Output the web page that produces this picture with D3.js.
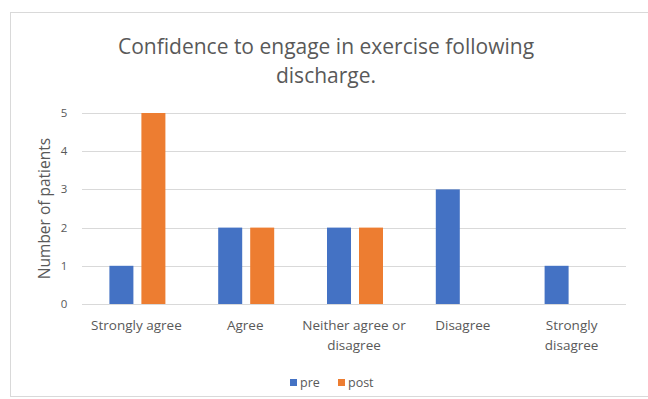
<!DOCTYPE html>
<html>
<head>
<meta charset="utf-8">
<title>Confidence to engage in exercise</title>
<script src="https://cdn.jsdelivr.net/npm/d3@7"></script>
<style>
  body { margin: 0; background: #fff; }
  text { font-family: "Open Sans", sans-serif; fill: #595959; }
</style>
</head>
<body>
<script>
var categories = ["Strongly agree", "Agree", "Neither agree or disagree", "Disagree", "Strongly disagree"]
var catLines = [["Strongly agree"], ["Agree"], ["Neither agree or", "disagree"], ["Disagree"], ["Strongly", "disagree"]]
var seriesNames = ["pre", "post"]
var preValues = [1, 2, 2, 3, 1]
var postValues = [5, 2, 2, 0, 0]
var yTicks = [0, 1, 2, 3, 4, 5]
var colors = ["#4472C4", "#ED7D31"]

var width = 648, height = 399
var svg = d3.select("body").append("svg").attr("width", width).attr("height", height)

// chart frame
svg.append("rect").attr("x", 10.5).attr("y", 12.5).attr("width", 660).attr("height", 384)
  .attr("fill", "#fff").attr("stroke", "#d9d9d9")

var plotLeft = 82, plotRight = 626, plotTop = 113, plotBottom = 304

var x = d3.scaleBand().domain(categories).range([plotLeft, plotRight]).paddingInner(0).paddingOuter(0)
var x1 = d3.scaleBand().domain(seriesNames).range([0, 56]).paddingInner(0.25)
var y = d3.scaleLinear().domain([0, 5]).range([plotBottom, plotTop])

// gridlines
svg.append("g").selectAll("line").data(yTicks).enter().append("line")
  .attr("x1", plotLeft).attr("x2", plotRight)
  .attr("y1", function(d) { return Math.round(y(d)) + 0.5 }).attr("y2", function(d) { return Math.round(y(d)) + 0.5 })
  .attr("stroke", "#d9d9d9").attr("stroke-width", 1)

// y tick labels
svg.append("g").selectAll("text").data(yTicks).enter().append("text")
  .attr("x", 64).attr("y", function(d) { return y(d) + 4 })
  .attr("text-anchor", "middle").attr("font-size", 11.5).text(function(d) { return d })

// y axis title
svg.append("text").attr("transform", "translate(50," + ((plotTop + plotBottom) / 2) + ") rotate(-90)")
  .attr("text-anchor", "middle").attr("font-size", 15.5).text("Number of patients")

// bars
var rows = categories.map(function(c, i) { return { cat: c, vals: [preValues[i], postValues[i]] } })
var groups = svg.append("g").selectAll("g").data(rows).enter().append("g")
  .attr("transform", function(d) { return "translate(" + (x(d.cat) + x.bandwidth() / 2 - 28 + 1) + ",0)" })
groups.selectAll("rect").data(function(d) { return d.vals.map(function(v, j) { return { s: seriesNames[j], v: v, j: j } }) })
  .enter().append("rect")
  .attr("x", function(d) { return x1(d.s) })
  .attr("width", x1.bandwidth())
  .attr("y", function(d) { return y(d.v) })
  .attr("height", function(d) { return plotBottom - y(d.v) })
  .attr("fill", function(d) { return colors[d.j] })

// x labels
var xl = svg.append("g").selectAll("text").data(categories).enter().append("text")
  .attr("x", function(d) { return x(d) + x.bandwidth() / 2 })
  .attr("y", 330).attr("text-anchor", "middle").attr("font-size", 13.5)
xl.selectAll("tspan").data(function(d, i) { return catLines[i] }).enter().append("tspan")
  .attr("x", function() { return this.parentNode.getAttribute("x") })
  .attr("dy", function(d, i) { return i == 0 ? 0 : 20 })
  .text(function(d) { return d })

// title
var title = svg.append("text").attr("x", 326).attr("y", 54).attr("text-anchor", "middle").attr("font-size", 21)
title.append("tspan").attr("x", 326).text("Confidence to engage in exercise following")
title.append("tspan").attr("x", 326).attr("dy", 29).text("discharge.")

// legend
var legend = svg.append("g").attr("transform", "translate(290,379)")
var lx = [0, 48]
seriesNames.forEach(function(s, i) {
  legend.append("rect").attr("x", lx[i]).attr("y", 0).attr("width", 7).attr("height", 7).attr("fill", colors[i])
  legend.append("text").attr("x", lx[i] + 10).attr("y", 8).attr("font-size", 12.5).text(s)
})
</script>
</body>
</html>
